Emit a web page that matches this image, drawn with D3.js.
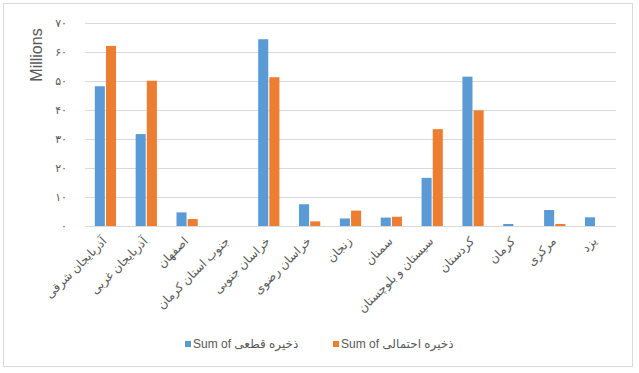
<!DOCTYPE html>
<html>
<head>
<meta charset="utf-8">
<script src="https://cdn.jsdelivr.net/npm/d3@7"></script>
<style>
  html, body { margin: 0; padding: 0; background: #fff; }
  svg { display: block; }
</style>
</head>
<body>
<svg id="chart" width="639" height="373"></svg>
<script>
const categories = [
  "آذربایجان شرقی", "آذربایجان غربی", "اصفهان", "جنوب استان کرمان",
  "خراسان جنوبی", "خراسان رضوی", "زنجان", "سمنان",
  "سیستان و بلوچستان", "کردستان", "کرمان", "مرکزی", "یزد"
];
const seriesNames = ["Sum of ذخیره قطعی", "Sum of ذخیره احتمالی"];
const definite = [48.2, 31.7, 4.7, 0, 64.4, 7.5, 2.6, 2.9, 16.6, 51.5, 0.7, 5.5, 3.0];
const probable = [62.1, 50.1, 2.4, 0, 51.3, 1.6, 5.3, 3.2, 33.4, 39.9, 0, 0.7, 0];
const tickValues = [0, 10, 20, 30, 40, 50, 60, 70];
const tickLabels = ["۰", "۱۰", "۲۰", "۳۰", "۴۰", "۵۰", "۶۰", "۷۰"];
const colors = ["#5B9BD5", "#ED7D31"];

(function () {
const svg = d3.select("#chart");
const mLeft = 85, mRight = 616, mTop = 23, mBottom = 226;
const textColor = "#595959";
const fontStack = "'Liberation Sans', 'DejaVu Sans', Arial, sans-serif";

// border
svg.append("rect")
  .attr("x", 3.5).attr("y", 3.5)
  .attr("width", 629).attr("height", 363)
  .attr("fill", "#fff").attr("stroke", "#D9D9D9");

const x = d3.scaleBand().domain(categories).range([mLeft, mRight])
  .paddingInner(0.48).paddingOuter(0.24);
const x1 = d3.scaleBand().domain(seriesNames).range([0, x.bandwidth()]).paddingInner(0.1);
const y = d3.scaleLinear().domain([0, 70]).range([mBottom, mTop]);

// gridlines
svg.append("g").selectAll("line").data(tickValues).join("line")
  .attr("x1", mLeft).attr("x2", mRight)
  .attr("y1", d => Math.round(y(d)) + 0.5).attr("y2", d => Math.round(y(d)) + 0.5)
  .attr("stroke", "#D9D9D9").attr("stroke-width", 1);

// y tick labels
svg.append("g").selectAll("text").data(tickValues).join("text")
  .attr("x", 67).attr("y", d => y(d))
  .attr("dy", "0.35em")
  .attr("text-anchor", "end")
  .attr("font-family", fontStack)
  .attr("font-size", 11)
  .attr("fill", textColor)
  .text((d, i) => tickLabels[i]);

// y axis title
svg.append("text")
  .attr("transform", "translate(42,55) rotate(-90)")
  .attr("text-anchor", "middle")
  .attr("font-family", fontStack)
  .attr("font-size", 16)
  .attr("fill", textColor)
  .text("Millions");

// bars
const data = categories.map((c, i) => ({ c, vals: [definite[i], probable[i]] }));
const groups = svg.append("g").selectAll("g").data(data).join("g")
  .attr("transform", d => `translate(${x(d.c)},0)`);
groups.selectAll("rect").data(d => d.vals.map((v, j) => ({ v, s: seriesNames[j], j })))
  .join("rect")
  .attr("x", d => x1(d.s))
  .attr("width", x1.bandwidth())
  .attr("y", d => y(d.v))
  .attr("height", d => y(0) - y(d.v))
  .attr("fill", d => colors[d.j]);

// category labels
svg.append("g").selectAll("text").data(categories).join("text")
  .attr("transform", d => `translate(${x(d) + x.bandwidth() / 2 + 2},${mBottom + 16}) rotate(-45)`)
  .attr("text-anchor", "end")
  .attr("font-family", fontStack)
  .attr("font-size", 12)
  .attr("fill", textColor)
  .text(d => d);

// legend
const legendX = [185, 333];
const legend = svg.append("g").selectAll("g").data(seriesNames).join("g")
  .attr("transform", (d, i) => `translate(${legendX[i]},341)`);
legend.append("rect").attr("width", 6).attr("height", 6)
  .attr("fill", (d, i) => colors[i]);
legend.append("text")
  .attr("x", 8).attr("y", 3).attr("dy", "0.35em")
  .attr("font-family", fontStack)
  .attr("font-size", 12)
  .attr("fill", textColor)
  .text(d => d);
})();
</script>
</body>
</html>
